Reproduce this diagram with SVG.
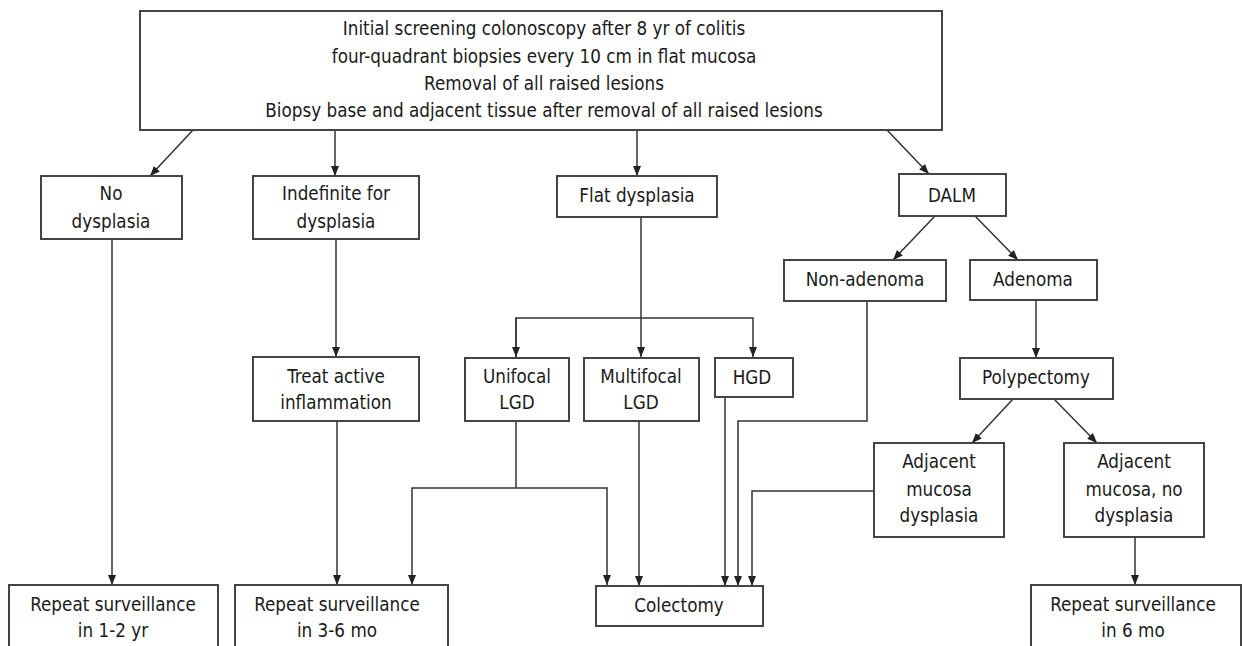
<svg xmlns="http://www.w3.org/2000/svg" width="1242" height="646" viewBox="0 0 1242 646">
<style>
.box{fill:#fff;stroke:#444;stroke-width:2}
.t{font-family:'DejaVu Sans Condensed','DejaVu Sans',sans-serif;font-stretch:condensed;font-size:18.7px;fill:#1a1a1a;text-anchor:middle}
.c{fill:none;stroke:#333;stroke-width:1.5}
</style>
<defs>
<marker id="ah" markerUnits="userSpaceOnUse" markerWidth="10" markerHeight="10" viewBox="0 0 10 10" refX="10" refY="5" orient="auto">
<path d="M0,1 L10,5 L0,9 z" fill="#222"/>
</marker>
</defs>
<rect width="1242" height="646" fill="#fff"/>
<g id="connectors">
<line class="c" x1="193" y1="130" x2="150" y2="176" marker-end="url(#ah)"/>
<line class="c" x1="335" y1="130" x2="335" y2="176" marker-end="url(#ah)"/>
<line class="c" x1="637" y1="130" x2="637" y2="176" marker-end="url(#ah)"/>
<line class="c" x1="887" y1="130" x2="929" y2="174" marker-end="url(#ah)"/>
<line class="c" x1="112" y1="239" x2="112" y2="585" marker-end="url(#ah)"/>
<line class="c" x1="336" y1="239" x2="336" y2="357" marker-end="url(#ah)"/>
<line class="c" x1="337" y1="421" x2="337" y2="585" marker-end="url(#ah)"/>
<line class="c" x1="641" y1="217" x2="641" y2="357" marker-end="url(#ah)"/>
<polyline class="c" points="516,357 516,318 753,318 753,357" marker-end="url(#ah)"/>
<path class="c" d="M516,318 L516,357" marker-end="url(#ah)"/>
<line class="c" x1="516" y1="421" x2="516" y2="488"/>
<polyline class="c" points="516,488 412,488 412,585" marker-end="url(#ah)"/>
<polyline class="c" points="516,488 607,488 607,585" marker-end="url(#ah)"/>
<line class="c" x1="639" y1="421" x2="639" y2="586" marker-end="url(#ah)"/>
<line class="c" x1="725" y1="397" x2="725" y2="586" marker-end="url(#ah)"/>
<polyline class="c" points="867,301 867,421 738,421 738,586" marker-end="url(#ah)"/>
<polyline class="c" points="874,491 752,491 752,586" marker-end="url(#ah)"/>
<line class="c" x1="935" y1="216" x2="893" y2="260" marker-end="url(#ah)"/>
<line class="c" x1="975" y1="216" x2="1018" y2="260" marker-end="url(#ah)"/>
<line class="c" x1="1036" y1="300" x2="1036" y2="358" marker-end="url(#ah)"/>
<line class="c" x1="1013" y1="399" x2="972" y2="443" marker-end="url(#ah)"/>
<line class="c" x1="1054" y1="399" x2="1097" y2="443" marker-end="url(#ah)"/>
<line class="c" x1="1135" y1="537" x2="1135" y2="585" marker-end="url(#ah)"/>
</g>
<g id="top">
<rect class="box" x="140" y="11" width="802" height="119"/>
<text class="t" x="544" y="35">Initial screening colonoscopy after 8 yr of colitis</text>
<text class="t" x="544" y="63">four-quadrant biopsies every 10 cm in flat mucosa</text>
<text class="t" x="544" y="90">Removal of all raised lesions</text>
<text class="t" x="544" y="117">Biopsy base and adjacent tissue after removal of all raised lesions</text>
</g>
<g id="no-dysplasia">
<rect class="box" x="41" y="176" width="141" height="63"/>
<text class="t" x="111" y="200">No</text>
<text class="t" x="111" y="228">dysplasia</text>
</g>
<g id="indefinite">
<rect class="box" x="253" y="176" width="166" height="63"/>
<text class="t" x="336" y="200">Indefinite for</text>
<text class="t" x="336" y="228">dysplasia</text>
</g>
<g id="flat-dysplasia">
<rect class="box" x="557" y="176" width="160" height="41"/>
<text class="t" x="637" y="202">Flat dysplasia</text>
</g>
<g id="dalm">
<rect class="box" x="899" y="174" width="107" height="42"/>
<text class="t" x="952" y="202">DALM</text>
</g>
<g id="non-adenoma">
<rect class="box" x="784" y="260" width="162" height="41"/>
<text class="t" x="865" y="286">Non-adenoma</text>
</g>
<g id="adenoma">
<rect class="box" x="970" y="260" width="127" height="40"/>
<text class="t" x="1033" y="286">Adenoma</text>
</g>
<g id="treat">
<rect class="box" x="253" y="357" width="166" height="64"/>
<text class="t" x="336" y="383">Treat active</text>
<text class="t" x="336" y="409">inflammation</text>
</g>
<g id="unifocal">
<rect class="box" x="465" y="358" width="104" height="63"/>
<text class="t" x="517" y="383">Unifocal</text>
<text class="t" x="517" y="409">LGD</text>
</g>
<g id="multifocal">
<rect class="box" x="584" y="358" width="115" height="63"/>
<text class="t" x="641" y="383">Multifocal</text>
<text class="t" x="641" y="409">LGD</text>
</g>
<g id="hgd">
<rect class="box" x="715" y="358" width="78" height="39"/>
<text class="t" x="752" y="384">HGD</text>
</g>
<g id="polypectomy">
<rect class="box" x="960" y="358" width="153" height="41"/>
<text class="t" x="1036" y="384">Polypectomy</text>
</g>
<g id="adj-dysplasia">
<rect class="box" x="874" y="443" width="130" height="94"/>
<text class="t" x="939" y="468">Adjacent</text>
<text class="t" x="939" y="496">mucosa</text>
<text class="t" x="939" y="522">dysplasia</text>
</g>
<g id="adj-no-dysplasia">
<rect class="box" x="1064" y="443" width="140" height="94"/>
<text class="t" x="1134" y="468">Adjacent</text>
<text class="t" x="1134" y="496">mucosa, no</text>
<text class="t" x="1134" y="522">dysplasia</text>
</g>
<g id="repeat-1-2yr">
<rect class="box" x="9" y="585" width="209" height="75"/>
<text class="t" x="113" y="611">Repeat surveillance</text>
<text class="t" x="113" y="637">in 1-2 yr</text>
</g>
<g id="repeat-3-6mo">
<rect class="box" x="235" y="585" width="213" height="75"/>
<text class="t" x="337" y="611">Repeat surveillance</text>
<text class="t" x="337" y="637">in 3-6 mo</text>
</g>
<g id="colectomy">
<rect class="box" x="596" y="586" width="167" height="40"/>
<text class="t" x="679" y="612">Colectomy</text>
</g>
<g id="repeat-6mo">
<rect class="box" x="1031" y="585" width="210" height="75"/>
<text class="t" x="1133" y="611">Repeat surveillance</text>
<text class="t" x="1133" y="637">in 6 mo</text>
</g>
</svg>
